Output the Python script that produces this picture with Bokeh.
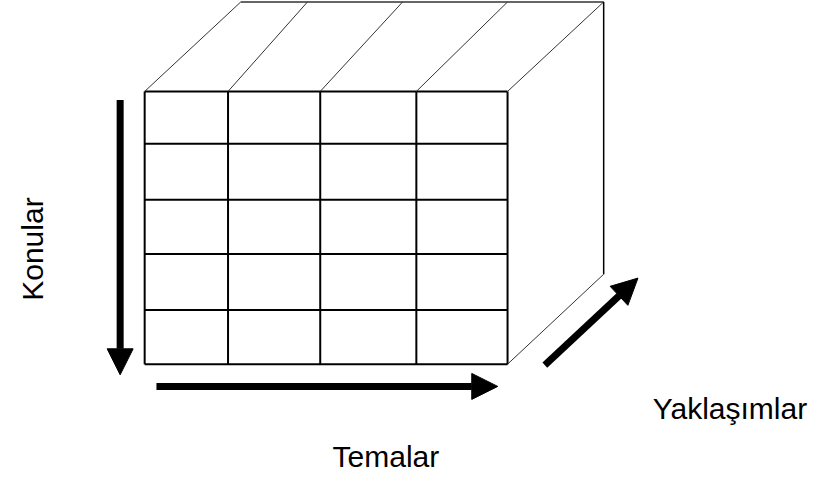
from bokeh.plotting import figure
from bokeh.models import Range1d, Arrow, NormalHead
from bokeh.core.properties import value
from bokeh.embed import file_html
from bokeh.resources import INLINE
import math

# ---- diagram content (pixel units of the image) ----
axis_labels = ["Konular", "Temalar", "Yaklaşımlar"]
col_edges = [147, 232, 326, 424, 517]        # Temalar (4 columns)
row_edges = [94, 148, 206, 262, 320, 376]    # Konular (5 rows)
col_back_tops = [245, 313, 410, 517, 615]    # where the depth lines reach the back
back_top = 1.5
back_bottom_right = (615, 283)

W, H = 832, 488


def Y(v):
    return H - v


p = figure(width=816, height=472, x_range=Range1d(0, W), y_range=Range1d(0, H),
           output_backend="svg", toolbar_location=None, min_border=0,
           x_axis_type=None, y_axis_type=None)
p.grid.visible = False
p.outline_line_color = None
p.background_fill_color = "white"
p.border_fill_color = "white"

# front face grid
left, right = col_edges[0], col_edges[-1]
top, bottom = row_edges[0], row_edges[-1]
p.segment(x0=[left] * len(row_edges), x1=[right] * len(row_edges),
          y0=[Y(r) for r in row_edges], y1=[Y(r) for r in row_edges],
          line_color="black", line_width=2)
p.segment(x0=col_edges, x1=col_edges,
          y0=[Y(top)] * len(col_edges), y1=[Y(bottom)] * len(col_edges),
          line_color="black", line_width=2)

# depth lines (top face)
p.segment(x0=col_edges, x1=col_back_tops,
          y0=[Y(top)] * len(col_edges), y1=[Y(back_top)] * len(col_edges),
          line_color="#333333", line_width=1)
# back top edge
p.segment(x0=[col_back_tops[0]], x1=[col_back_tops[-1]], y0=[Y(back_top)], y1=[Y(back_top)],
          line_color="#333333", line_width=1.5)
# right face
bx, by = back_bottom_right
p.segment(x0=[bx], x1=[bx], y0=[Y(back_top)], y1=[Y(by)],
          line_color="black", line_width=1.5)
p.segment(x0=[right], x1=[bx], y0=[Y(bottom)], y1=[Y(by)],
          line_color="#333333", line_width=1)

# arrows
arrows = [
    ((122, 103), (122, 387)),   # Konular (down)
    ((159, 399), (507, 399)),   # Temalar (right)
    ((555, 377), (650, 287)),   # Yaklaşımlar (diagonal)
]
for (xs, ys), (xe, ye) in arrows:
    p.add_layout(Arrow(x_start=xs, y_start=Y(ys), x_end=xe, y_end=Y(ye),
                       line_color="black", line_width=7,
                       end=NormalHead(size=26, fill_color="black",
                                      line_color="black", line_width=1)))

font = value("Liberation Sans")
p.text(x=[33], y=[Y(257)], text=[axis_labels[0]], angle=math.pi / 2,
       text_align="center", text_baseline="alphabetic", text_font=font,
       text_font_size="30px", text_color="black")
p.text(x=[393], y=[Y(471)], text=[axis_labels[1]],
       text_align="center", text_baseline="alphabetic", text_font=font,
       text_font_size="30px", text_color="black")
p.text(x=[665], y=[Y(422)], text=[axis_labels[2]],
       text_align="left", text_baseline="alphabetic", text_font=font,
       text_font_size="30px", text_color="black")

open("out.html", "w").write(file_html(p, INLINE))
